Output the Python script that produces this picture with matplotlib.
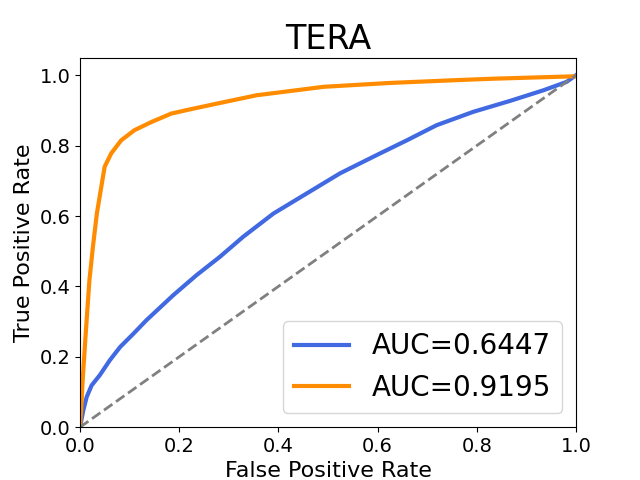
import numpy as np
import matplotlib
matplotlib.use("Agg")
import matplotlib.pyplot as plt

# ROC points
fpr_a = [0.0, 0.0067, 0.0135, 0.0235, 0.040, 0.060, 0.081, 0.108, 0.134,
         0.188, 0.235, 0.282, 0.329, 0.390, 0.457, 0.524, 0.598, 0.659,
         0.719, 0.793, 0.867, 0.934, 0.981, 1.0]
tpr_a = [0.0, 0.048, 0.086, 0.119, 0.148, 0.19, 0.228, 0.266, 0.304,
         0.375, 0.432, 0.484, 0.541, 0.607, 0.664, 0.721, 0.773, 0.815,
         0.858, 0.896, 0.927, 0.957, 0.981, 1.0]

fpr_b = [0.0, 0.0027, 0.0054, 0.012, 0.019, 0.026, 0.034, 0.042, 0.0497,
         0.063, 0.083, 0.110, 0.144, 0.184, 0.222, 0.275, 0.356, 0.491, 0.625,
         0.759, 0.833, 1.0]
tpr_b = [0.0, 0.058, 0.134, 0.276, 0.418, 0.512, 0.607, 0.675, 0.740,
         0.778, 0.815, 0.844, 0.867, 0.891, 0.903, 0.919, 0.943, 0.967, 0.978,
         0.986, 0.99, 0.997]

auc_a = 0.6447
auc_b = 0.9195

fig, ax = plt.subplots(figsize=(6.4, 4.8), dpi=100)
ax.plot(fpr_a, tpr_a, color='royalblue', lw=3, label='AUC=%.4f' % auc_a)
ax.plot(fpr_b, tpr_b, color='darkorange', lw=3, label='AUC=%.4f' % auc_b)
ax.plot([0, 1], [0, 1], color='gray', lw=2, linestyle='--')
ax.set_xlim(0.0, 1.0)
ax.set_ylim(0.0, 1.05)
ax.set_xlabel('False Positive Rate', fontsize=16)
ax.set_ylabel('True Positive Rate', fontsize=16)
ax.set_title('TERA', fontsize=24)
ax.tick_params(labelsize=14)
ax.legend(loc='lower right', fontsize=20)
fig.savefig('out.png')
